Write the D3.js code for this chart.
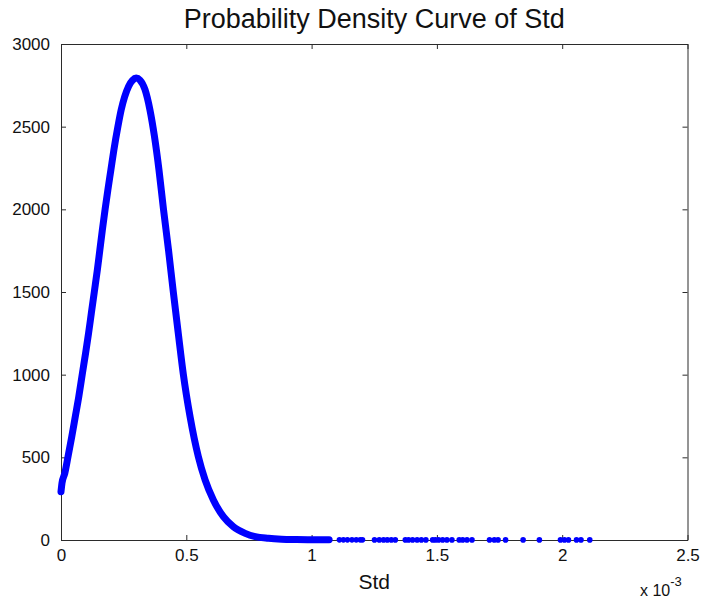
<!DOCTYPE html>
<html>
<head>
<meta charset="utf-8">
<script src="https://cdn.jsdelivr.net/npm/d3@7"></script>
<style>
  body { margin: 0; background: #fff; }
  text { font-family: "Liberation Sans", Arial, sans-serif; fill: #111; }
</style>
</head>
<body>
<script>
// Std values are in units of 1e-3 (axis shows "x 10^-3")
const curveStd = [0.000, 0.004, 0.015, 0.028, 0.043, 0.057, 0.071, 0.085, 0.098, 0.110,
  0.121, 0.133, 0.145, 0.155, 0.165, 0.176, 0.187, 0.199, 0.211, 0.227,
  0.240, 0.254, 0.270, 0.285, 0.300, 0.315, 0.335, 0.355, 0.373, 0.391,
  0.409, 0.429, 0.448, 0.468, 0.488, 0.515, 0.548, 0.575, 0.608, 0.648,
  0.688, 0.735, 0.775, 0.828, 0.880, 0.940, 1.000, 1.070];
const curveDensity = [292, 345, 403, 504, 625, 746, 867, 1004, 1129, 1250,
  1371, 1502, 1633, 1754, 1875, 2000, 2117, 2238, 2359, 2500,
  2601, 2681, 2745, 2780, 2794, 2782, 2725, 2601, 2440, 2238,
  2000, 1754, 1502, 1250, 1004, 746, 504, 363, 242, 141,
  80, 40, 20, 10, 5, 3, 2, 1];

// sparse samples in the right tail
const tailStd = [1.111, 1.127, 1.143, 1.161, 1.178, 1.194, 1.203, 1.251, 1.270, 1.287,
  1.302, 1.318, 1.334, 1.374, 1.387, 1.403, 1.421, 1.438, 1.456, 1.483,
  1.494, 1.507, 1.523, 1.540, 1.560, 1.589, 1.603, 1.620, 1.640, 1.710,
  1.729, 1.744, 1.774, 1.844, 1.909, 1.993, 2.009, 2.025, 2.057, 2.075, 2.110];
const tailDensity = [1, 1, 1, 1, 1, 1, 1, 0.5, 0.5, 0.5,
  0.5, 0.5, 0.5, 0.5, 0.5, 0.5, 0.5, 0.5, 0.5, 0.5,
  0.5, 0.5, 0.5, 0.5, 0.5, 0.5, 0.5, 0.5, 0.5, 0.5,
  0.5, 0.5, 0.5, 0.5, 0.5, 0.5, 0.5, 0.5, 0.5, 0.5, 0.5];

const xTicks = [0, 0.5, 1, 1.5, 2, 2.5];
const yTicks = [0, 500, 1000, 1500, 2000, 2500, 3000];

const w = 702;
const h = 602;
const padL = 61, padR = 687.5, padT = 44, padB = 540;
const axisColor = "#2b2b2b";
const blue = "#0000ff";

const svg = d3.select("body")
  .append("svg")
  .attr("width", w)
  .attr("height", h);

const x = d3.scaleLinear().domain([0, 2.5]).range([padL, padR]);
const y = d3.scaleLinear().domain([0, 3000]).range([padB, padT]);

// axes box with inward ticks on all four sides
const fmtX = d => d === 0 ? "0" : String(d);

svg.append("g")
  .attr("transform", "translate(0," + padB + ")")
  .call(d3.axisBottom(x).tickValues(xTicks).tickSizeInner(-5).tickSizeOuter(0).tickPadding(9).tickFormat(fmtX))
  .call(g => g.selectAll("text").style("font-size", "17px").attr("fill", "#111"));

svg.append("g")
  .attr("transform", "translate(0," + padT + ")")
  .call(d3.axisTop(x).tickValues(xTicks).tickSizeInner(-5).tickSizeOuter(0).tickFormat(""));

svg.append("g")
  .attr("transform", "translate(" + padL + ",0)")
  .call(d3.axisLeft(y).tickValues(yTicks).tickSizeInner(-5).tickSizeOuter(0).tickPadding(11).tickFormat(d3.format("d")))
  .call(g => g.selectAll("text").style("font-size", "17px").attr("fill", "#111"));

svg.append("g")
  .attr("transform", "translate(" + padR + ",0)")
  .call(d3.axisRight(y).tickValues(yTicks).tickSizeInner(-5).tickSizeOuter(0).tickFormat(""));

svg.selectAll(".domain").attr("stroke", axisColor);
svg.selectAll(".tick line").attr("stroke", axisColor);

// density curve (dense markers rendered as a thick band)
const curvePts = curveStd.map((s, i) => [s, curveDensity[i]]);
const line = d3.line()
  .x(d => x(d[0]))
  .y(d => y(d[1]))
  .curve(d3.curveMonotoneX);

svg.append("path")
  .datum(curvePts)
  .attr("d", line)
  .attr("fill", "none")
  .attr("stroke", blue)
  .attr("stroke-width", 7)
  .attr("stroke-linejoin", "round")
  .attr("stroke-linecap", "round");

svg.append("g")
  .selectAll("circle")
  .data(tailStd.map((s, i) => [s, tailDensity[i]]))
  .enter()
  .append("circle")
  .attr("cx", d => x(d[0]))
  .attr("cy", d => y(d[1]))
  .attr("r", 2.8)
  .attr("fill", blue);

// title and labels
svg.append("text")
  .attr("x", (padL + padR) / 2)
  .attr("y", 28)
  .attr("text-anchor", "middle")
  .style("font-size", "27px")
  .text("Probability Density Curve of Std");

svg.append("text")
  .attr("x", (padL + padR) / 2)
  .attr("y", 589)
  .attr("text-anchor", "middle")
  .style("font-size", "21px")
  .attr("fill", "#333")
  .text("Std");

const exp = svg.append("text")
  .attr("x", 640)
  .attr("y", 596)
  .style("font-size", "16px");
exp.append("tspan").text("x 10");
exp.append("tspan").attr("dy", -10).style("font-size", "13px").text("-3");
</script>
</body>
</html>
